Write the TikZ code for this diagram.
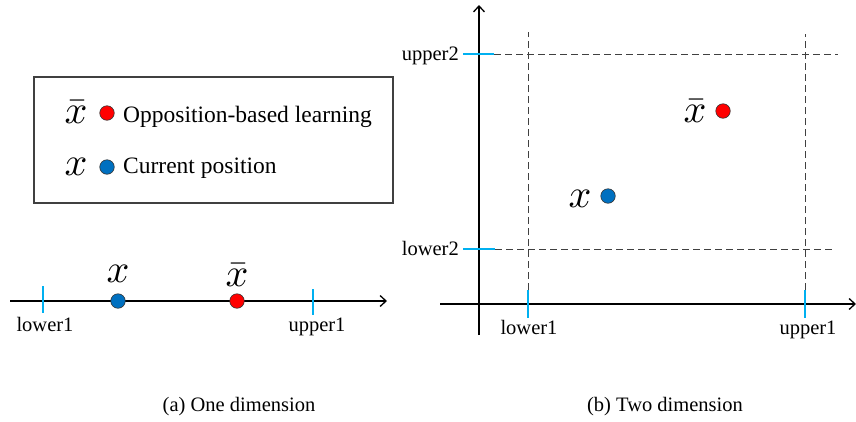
\documentclass[tikz,border=0pt]{standalone}
\usepackage{graphicx}
\usepackage{fontspec}
\setmainfont{Liberation Serif}
\usetikzlibrary{arrows.meta,positioning}
\definecolor{tickblue}{RGB}{0,176,240}
\definecolor{dotblue}{RGB}{0,112,192}

\begin{document}
\begin{tikzpicture}[x=1pt, y=-1pt,
  axis/.style={line width=1.4pt, -{Straight Barb[length=6pt, width=11pt, line width=1.3pt]}},
  tickmark/.style={draw=tickblue, line width=2.8pt},
  guide/.style={draw=black!75, line width=0.8pt, dash pattern=on 7pt off 4pt},
  dot/.style={circle, draw=black!80, line width=0.6pt, minimum size=14.5pt, inner sep=0pt},
  var/.style={inner sep=0pt, anchor=base},
  bound/.style={font=\fontsize{20.5}{22}\selectfont, inner sep=0pt},
  legtext/.style={font=\fontsize{23.5}{26}\selectfont, inner sep=0pt, anchor=base west},
  capt/.style={font=\fontsize{20.5}{22}\selectfont, inner sep=0pt, anchor=base}
]
\useasboundingbox (0,0) rectangle (856,421);
\newcommand{\vx}{\scalebox{4}{$x$}}
\newcommand{\vxbar}{\scalebox{4}{$\bar{x}$}}

% legend box
\node[draw=black!75, line width=1.2pt, minimum width=359pt, minimum height=126pt, inner sep=0pt] (legend) at (213.5,140) {};
\node[dot, fill=red] (lred) at (107,113) {};
\node[dot, fill=dotblue] (lblue) at (107,167) {};
\node[var] (lxbar) at (76,123) {\vxbar};
\node[var] (lx) at (76,175) {\vx};
\node[legtext] (lobl) at (123,122) {Opposition-based learning};
\node[legtext] (lcur) at (123,173) {Current position};

% (a) one dimension
\coordinate (a1s) at (10,301);
\coordinate (a1e) at (387,301);
\draw[axis] (a1s) -- (a1e);
\coordinate (lo1a) at (43,300);
\coordinate (up1a) at (313,302);
\draw[tickmark] ([yshift=14pt]lo1a) -- ([yshift=-13pt]lo1a);
\draw[tickmark] ([yshift=13pt]up1a) -- ([yshift=-13pt]up1a);
\node[bound, anchor=base] (lo1alab) at (45,331) {lower1};
\node[bound, anchor=base] (up1alab) at (317,331) {upper1};
\node[dot, fill=dotblue] (ablue) at (118,301) {};
\node[dot, fill=red] (ared) at (237,301) {};
\node[var] (ax) at (118,282) {\vx};
\node[var] (axbar) at (237,286) {\vxbar};

% (b) two dimension
\coordinate (vs) at (479,335);
\coordinate (ve) at (479,5);
\coordinate (hs) at (440,304);
\coordinate (he) at (856,304);
\draw[axis] (vs) -- (ve);
\draw[axis] (hs) -- (he);

% bounds on the vertical axis
\coordinate (up2) at (479,54);
\coordinate (lo2) at (479,249);
\draw[tickmark] ([xshift=-16pt]up2) -- ([xshift=15pt]up2) coordinate (up2r);
\draw[tickmark] ([xshift=-16pt]lo2) -- ([xshift=16pt]lo2) coordinate (lo2r);
\node[bound, anchor=base east] (up2lab) at (459,60) {upper2};
\node[bound, anchor=base east] (lo2lab) at (459,255) {lower2};

% bounds on the horizontal axis
\coordinate (lo1b) at (528,304);
\coordinate (up1b) at (805,304);
\draw[tickmark] ([yshift=14pt]lo1b) coordinate (lo1t) -- ([yshift=-14pt]lo1b);
\draw[tickmark] ([yshift=14pt]up1b) coordinate (up1t) -- ([yshift=-14pt]up1b);
\node[bound, anchor=base] (lo1blab) at (529,334) {lower1};
\node[bound, anchor=base] (up1blab) at (808,334) {upper1};

% dashed search range
\coordinate (lo1top) at (528,32);
\coordinate (up1top) at (805,34);
\coordinate (up2end) at (838,54);
\coordinate (lo2end) at (835,249);
\draw[guide] (up2r) -- (up2end);
\draw[guide] (lo2r) -- (lo2end);
\draw[guide] (lo1t) -- (lo1top);
\draw[guide] (up1t) -- (up1top);

\node[dot, fill=red] (bred) at (723,111) {};
\node[dot, fill=dotblue] (bblue) at (608,196) {};
\node[var] (bxbar) at (695,122) {\vxbar};
\node[var] (bx) at (580,207) {\vx};

% captions
\node[capt] (capa) at (239,411) {(a) One dimension};
\node[capt] (capb) at (665,411) {(b) Two dimension};

\end{tikzpicture}
\end{document}
